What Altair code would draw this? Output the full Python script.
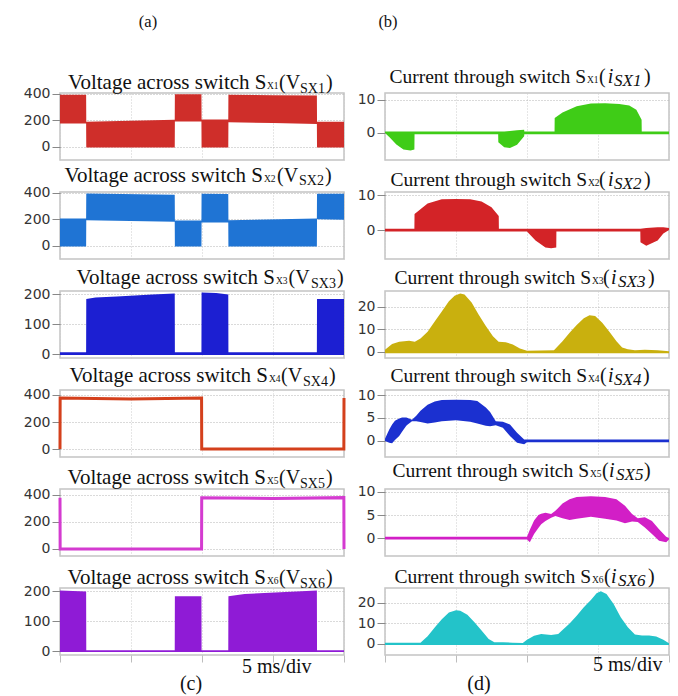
import altair as alt
import pandas as pd

SERIF = "Liberation Serif"
SANS = "DejaVu Sans"
PANEL_W, PANEL_H = 284, 67
X_TICKS = [0, 5, 10, 15, 20]

# ---------------- (c) voltages across switches ----------------
L1_T = [0, 1.84, 1.85, 8.08, 8.09, 9.96, 9.97, 11.85, 11.86, 15.0, 18.09, 18.10, 20]
L1_LO = [175, 175, -5, -5, 190, 190, -5, -5, 185, 178, 172, -5, -5]
L1_HI = [392, 392, 188, 203, 396, 396, 205, 205, 392, 388, 386, 188, 188]

L2_T = [0, 1.84, 1.85, 8.08, 8.09, 9.96, 9.97, 11.85, 11.86, 18.09, 18.10, 20]
L2_LO = [-5, -5, 192, 180, -5, -5, 175, 175, -5, -5, 200, 195]
L2_HI = [205, 205, 393, 385, 190, 190, 392, 390, 192, 205, 392, 392]

L3_T = [0, 1.84, 1.85, 2.5, 4.0, 6.5, 8.08, 8.09, 9.96, 9.97, 11.0, 11.85, 11.86, 18.09, 18.10, 20]
L3_HI = [6, 6, 183, 188, 192, 198, 202, 6, 6, 205, 203, 198, 6, 6, 183, 183]
L3_BASE = -3

L4_T = [0, 0.01, 5.0, 9.97, 9.98, 19.99, 20]
L4_V = [0, 378, 370, 378, 0, 0, 378]

L5_T = [0, 0.01, 9.97, 9.98, 15.0, 19.99, 20]
L5_V = [380, 0, 0, 380, 373, 380, 0]

L6_T = [0, 1.84, 1.85, 8.08, 8.09, 9.96, 9.97, 11.85, 11.86, 13.0, 15.5, 18.09, 18.10, 20]
L6_HI = [202, 198, 4, 4, 183, 183, 4, 4, 183, 190, 196, 202, 4, 4]
L6_BASE = -2

# ---------------- (d) currents through switches ----------------
R1_T = [0, 0.3, 0.8, 1.3, 1.8, 2.07, 2.08, 7.97, 7.98, 8.4, 8.8, 9.3, 9.8, 9.81,
        11.94, 11.95, 12.5, 13.5, 14.5, 15.5, 16.5, 17.2, 17.7, 18.07, 18.08, 20]
R1_LO = [0, -1.2, -3.5, -5.0, -5.3, -5.0, -0.4, -0.4, -2.8, -4.3, -4.6, -3.6, -1.0, -0.4,
         -0.4, -0.4, -0.4, -0.4, -0.4, -0.4, -0.4, -0.4, -0.4, -0.4, -0.4, -0.4]
R1_HI = [0.4, 0.4, 0.4, 0.4, 0.4, 0.4, 0.4, 0.4, 0.4, 0.4, 0.6, 0.8, 1.0, 0.4,
         0.4, 4.5, 6.2, 8.1, 8.9, 9.0, 8.8, 8.3, 7.0, 4.0, 0.4, 0.4]

R2_T = [0, 2.07, 2.08, 3.0, 4.0, 5.0, 6.0, 6.8, 7.5, 8.01, 8.02, 10.0, 10.6, 11.3, 11.7,
        12.06, 12.07, 17.98, 17.99, 18.4, 19.2, 19.6, 20]
R2_LO = [-0.4, -0.4, -0.4, -0.4, -0.4, -0.4, -0.4, -0.4, -0.4, -0.4, -0.4, -0.4, -3.0, -5.0, -5.2,
         -5.0, -0.4, -0.4, -3.5, -4.5, -3.0, -1.0, 0]
R2_HI = [0.4, 0.4, 4.6, 7.6, 8.8, 8.9, 8.8, 8.2, 6.5, 4.0, 0.4, 0.4, 0.4, 0.4, 0.4,
         0.4, 0.4, 0.4, 0.4, 0.6, 0.8, 0.8, 0.6]

R3_T = [0, 0.5, 1.0, 1.7, 2.1, 2.5, 3.0, 3.5, 4.0, 4.5, 4.9, 5.3, 5.6, 6.1, 6.6, 7.1, 7.6, 8.0,
        8.5, 9.0, 9.5, 10.0, 11.9, 12.5, 13.0, 13.5, 14.0, 14.4, 14.8, 15.3, 15.8, 16.3, 16.7,
        17.1, 17.6, 18.3, 19.2, 20]
R3_HI = [1.0, 3.5, 4.5, 5.0, 4.5, 6.0, 9.0, 13.5, 18.0, 22.5, 25.0, 26.0, 25.5, 22.0, 16.5, 11.5,
         7.0, 4.5, 4.3, 3.3, 1.5, 0.5, 0.8, 4.7, 8.5, 12.0, 15.0, 16.3, 16.0, 13.0, 9.0, 4.7, 2.0,
         1.2, 0.8, 1.0, 0.7, 0.3]
R3_BASE = -0.6

R4_T = [0, 0.3, 0.5, 0.7, 1.0, 1.2, 1.5, 1.6, 1.9, 2.2, 2.5, 3.0, 3.5, 4.0, 5.0, 6.0, 6.5,
        7.1, 7.4, 7.8, 8.3, 8.8, 9.3, 9.8, 10.0, 20]
R4_HI = [0.5, 2.5, 3.6, 4.4, 4.9, 5.1, 5.1, 5.0, 4.6, 5.5, 6.6, 7.9, 8.6, 8.9, 9.0, 8.9, 8.7,
         7.3, 6.3, 4.3, 4.2, 3.6, 1.8, 0.3, 0.3, 0.3]
R4_LO = [0, -0.4, -0.5, 0.2, 1.1, 2.0, 3.3, 3.6, 4.3, 4.3, 4.1, 3.8, 4.0, 4.3, 4.5, 4.2, 3.8,
         3.3, 3.2, 3.4, 2.9, 1.1, -0.4, -0.7, -0.3, -0.3]

R5_T = [0, 10.0, 10.2, 10.5, 10.8, 11.0, 11.3, 11.7, 12.0, 12.5, 13.0, 13.5, 14.5, 15.5, 16.3,
        16.9, 17.4, 17.8, 18.3, 18.8, 19.3, 19.8, 20]
R5_HI = [0.3, 0.3, 1.8, 3.8, 5.0, 5.3, 5.5, 5.2, 5.9, 7.5, 8.4, 8.9, 9.1, 8.9, 8.4, 7.0, 5.2,
         4.3, 4.5, 3.7, 1.9, 0.3, 0.0]
R5_LO = [-0.3, -0.3, -0.9, 0.9, 2.2, 3.0, 3.7, 4.4, 4.8, 4.3, 3.9, 4.2, 4.6, 4.2, 3.8, 3.2, 3.6,
         3.5, 2.3, 0.9, -0.6, -0.9, -0.3]

R6_T = [0, 2.5, 3.0, 3.5, 4.0, 4.5, 5.0, 5.3, 5.8, 6.3, 6.8, 7.3, 7.7, 8.3, 9.0, 9.7, 10.0,
        10.5, 11.0, 11.7, 12.2, 12.5, 13.0, 13.5, 14.0, 14.5, 14.9, 15.2, 15.6, 16.1, 16.6,
        17.1, 17.6, 18.1, 18.6, 19.1, 19.6, 20]
R6_HI = [0.6, 0.6, 3.7, 8.0, 12.0, 15.4, 16.5, 16.2, 14.3, 10.6, 6.5, 2.4, 0.8, 0.8, 0.6, 0.4,
         2.0, 4.0, 4.9, 4.4, 4.9, 6.8, 10.0, 13.8, 17.9, 21.5, 24.7, 25.7, 24.4, 19.5, 13.0,
         8.1, 4.6, 4.1, 4.1, 3.6, 2.0, 0.3]
R6_BASE = -0.5

L_COLORS = ["#cf2e2a", "#1f74d4", "#1c1fd2", "#d4401c", "#d43bd0", "#8f1bd6"]
R_COLORS = ["#3fcc17", "#d32327", "#c9b00e", "#1b30d0", "#d21fc6", "#23c3c9"]

L_DOMAINS = [[-100, 405], [-100, 405], [-13, 210], [-59, 437], [-52, 444], [-12, 210]]
L_TICKS = [[0, 200, 400], [0, 200, 400], [0, 100, 200], [0, 200, 400], [0, 200, 400], [0, 100, 200]]
R_DOMAINS = [[-8.2, 12.1], [-8.3, 10.9], [-2.7, 27.1], [-3.5, 11.1], [-3.9, 10.65], [-5.4, 27.3]]
R_TICKS = [[0, 10], [0, 10], [0, 10, 20], [0, 5, 10], [0, 5, 10], [0, 10, 20]]

SWITCH_IDS = ["X1", "X2", "X3", "X4", "X5", "X6"]
SUB_IDS = ["SX1", "SX2", "SX3", "SX4", "SX5", "SX6"]

# title layout (pixels relative to the panel): main end, small id, "(V", subscript, ")", baseline
V_TITLE_POS = [
    (206.5, 207, 219, 240, 266, -4),
    (203, 204, 217, 239, 265, -10.5),
    (215, 216, 228.5, 251, 277, -7),
    (208, 209, 221, 243, 269, -8),
    (206, 207, 219, 240, 266, -5),
    (206, 207, 219, 240, 266, -4),
]
# main end, small id, "(", "i", subscript, ")", baseline
I_TITLE_POS = [
    (201, 202, 214, 222.7, 229, 259, -10.3),
    (202, 203, 214, 223, 229, 259, -6),
    (206, 207, 218, 226, 233, 263, -7.3),
    (202, 203, 215, 223, 229, 258, -8.3),
    (204, 205, 217, 224, 231, 259, -12),
    (206, 207, 219, 226, 233, 263, -5.3),
]


def text_layer(s, x, y, size, align="left", style="normal", color="#111111"):
    return alt.Chart(alt.InlineData(values=[{"k": 0}])).mark_text(
        text=s, font=SERIF, fontSize=size, fontStyle=style, align=align,
        baseline="alphabetic", color=color
    ).encode(x=alt.value(x), y=alt.value(y))


def x_axis(bottom):
    return alt.Axis(values=X_TICKS, labels=False, title=None, domain=False,
                    ticks=bottom, tickSize=7, tickColor="#bdbdbd", tickWidth=1,
                    grid=True, gridColor="#cccccc", gridDash=[1, 2], gridWidth=1)


def y_axis(vals):
    return alt.Axis(values=vals, title=None, domain=False, tickSize=8, tickColor="#888888",
                    tickWidth=1, labelFont=SANS, labelFontSize=14, labelColor="#333333",
                    labelPadding=2, grid=True, gridColor="#b5b5b5", gridDash=[1, 2],
                    gridWidth=1)


def wave(t, hi, color, ydom, yvals, bottom, lo=None, base=None, line=False):
    data = {"t": t, "hi": hi}
    if lo is not None:
        data["lo"] = lo
    df = pd.DataFrame(data)
    x = alt.X("t:Q", scale=alt.Scale(domain=[0, 20], nice=False, zero=False), axis=x_axis(bottom))
    y = alt.Y("hi:Q", scale=alt.Scale(domain=ydom, nice=False, zero=False), axis=y_axis(yvals))
    if line:
        return alt.Chart(df).mark_line(color=color, strokeWidth=3, interpolate="linear").encode(x=x, y=y)
    y2 = alt.Y2("lo:Q") if lo is not None else alt.datum(base)
    return alt.Chart(df).mark_area(color=color, opacity=1, interpolate="linear").encode(x=x, y=y, y2=y2)


def v_title(i):
    xe, xs, xp, xsub, xc, yb = V_TITLE_POS[i]
    return [
        text_layer("Voltage across switch S", xe, yb, 21, "right"),
        text_layer(SWITCH_IDS[i], xs, yb, 9.5),
        text_layer("(V", xp, yb, 20),
        text_layer(SUB_IDS[i], xsub, yb + 3.5, 14),
        text_layer(")", xc, yb, 20),
    ]


def i_title(i):
    xe, xs, xp, xi, xsub, xc, yb = I_TITLE_POS[i]
    return [
        text_layer("Current through switch S", xe, yb, 19.5, "right"),
        text_layer(SWITCH_IDS[i], xs, yb, 9.5),
        text_layer("(", xp, yb, 20),
        text_layer("i", xi, yb, 20, style="italic"),
        text_layer(SUB_IDS[i], xsub, yb + 3.3, 17, style="italic"),
        text_layer(")", xc, yb, 20),
    ]


left_waves = [
    wave(L1_T, L1_HI, L_COLORS[0], L_DOMAINS[0], L_TICKS[0], False, lo=L1_LO),
    wave(L2_T, L2_HI, L_COLORS[1], L_DOMAINS[1], L_TICKS[1], False, lo=L2_LO),
    wave(L3_T, L3_HI, L_COLORS[2], L_DOMAINS[2], L_TICKS[2], False, base=L3_BASE),
    wave(L4_T, L4_V, L_COLORS[3], L_DOMAINS[3], L_TICKS[3], False, line=True),
    wave(L5_T, L5_V, L_COLORS[4], L_DOMAINS[4], L_TICKS[4], False, line=True),
    wave(L6_T, L6_HI, L_COLORS[5], L_DOMAINS[5], L_TICKS[5], True, base=L6_BASE),
]
right_waves = [
    wave(R1_T, R1_HI, R_COLORS[0], R_DOMAINS[0], R_TICKS[0], False, lo=R1_LO),
    wave(R2_T, R2_HI, R_COLORS[1], R_DOMAINS[1], R_TICKS[1], False, lo=R2_LO),
    wave(R3_T, R3_HI, R_COLORS[2], R_DOMAINS[2], R_TICKS[2], False, base=R3_BASE),
    wave(R4_T, R4_HI, R_COLORS[3], R_DOMAINS[3], R_TICKS[3], False, lo=R4_LO),
    wave(R5_T, R5_HI, R_COLORS[4], R_DOMAINS[4], R_TICKS[4], False, lo=R5_LO),
    wave(R6_T, R6_HI, R_COLORS[5], R_DOMAINS[5], R_TICKS[5], True, base=R6_BASE),
]

cells = []
for i in range(6):
    lextra = []
    rextra = []
    if i == 0:
        anchor = alt.Chart(alt.InlineData(values=[{"k": 0}])).mark_rect(fill="white").encode(
            x=alt.value(-59), x2=alt.value(-58), y=alt.value(-92), y2=alt.value(-91))
        lextra = [anchor, text_layer("(a)", 88, -66, 16.5, "center")]
        rextra = [text_layer("(b)", 3, -66, 16.5, "center")]
    if i == 5:
        lextra = [text_layer("5 ms/div", 182, 85, 20), text_layer("(c)", 131, 102, 20, "center")]
        rextra = [text_layer("5 ms/div", 208, 83, 20), text_layer("(d)", 94, 102, 20, "center")]
    left = alt.layer(left_waves[i], *v_title(i), *lextra).properties(width=PANEL_W, height=PANEL_H)
    right = alt.layer(right_waves[i], *i_title(i), *rextra).properties(width=PANEL_W, height=PANEL_H)
    cells += [left, right]

chart = alt.concat(
    *cells, columns=2, spacing=alt.RowColnumber(row=32, column=41), bounds="flush"
).properties(padding=0, background="white").configure_view(
    stroke="#c3c3c3", strokeWidth=1.5, fill="white"
)

chart.save("out.html", embed_options={"renderer": "svg", "actions": False})
